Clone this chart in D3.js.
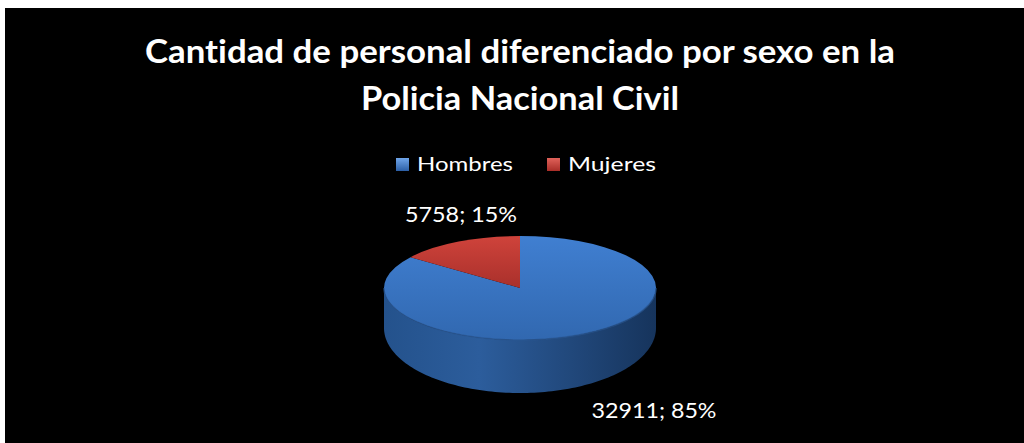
<!DOCTYPE html>
<html><head><meta charset="utf-8">
<script src="https://cdn.jsdelivr.net/npm/d3@7"></script>
<style>html,body{margin:0;padding:0;background:#fff;}svg{display:block;}text{font-variant-ligatures:none;font-feature-settings:"liga" 0;}</style>
</head><body>
<svg id="c" width="1024" height="443"></svg>
<script>
const categories = ["Hombres", "Mujeres"];
const values = [32911, 5758];
const percents = ["85%", "15%"];
const titleLines = ["Cantidad de personal diferenciado por sexo en la", "Policia Nacional Civil"];

const W = 1024, H = 443;
const svg = d3.select("#c");
const font = "Lato, 'Open Sans', 'Liberation Sans', sans-serif";

svg.append("rect").attr("x", 0).attr("y", 0).attr("width", W).attr("height", H).attr("fill", "#fff");
svg.append("rect").attr("x", 5).attr("y", 8).attr("width", W - 5).attr("height", H - 8).attr("fill", "#000");

const defs = svg.append("defs");
function lg(id, stops, x2, y2) {
  const g = defs.append("linearGradient").attr("id", id)
    .attr("x1", 0).attr("y1", 0).attr("x2", x2).attr("y2", y2);
  stops.forEach(s => g.append("stop").attr("offset", s[0]).attr("stop-color", s[1]));
}
lg("gTopBlue", [[0, "#407fd1"], [1, "#3168b0"]], 0, 1);
lg("gTopRed", [[0, "#cf433b"], [1, "#a9302b"]], 0, 1);
lg("gSide", [[0, "#24528c"], [0.35, "#2c5d9c"], [0.75, "#1f4475"], [1, "#16345c"]], 1, 0);
lg("gLegBlue", [[0, "#6fa5ea"], [1, "#2c5fa6"]], 0, 1);
lg("gLegRed", [[0, "#e0625a"], [1, "#a92e28"]], 0, 1);

// Title
const titleSizes = [32, 32];
const titleWidths = [750, 318];
const titleY = [63, 110];
titleLines.forEach((t, i) => {
  svg.append("text").attr("x", 520).attr("y", titleY[i])
    .attr("text-anchor", "middle").attr("fill", "#fff")
    .attr("font-family", font).attr("font-weight", "bold")
    .attr("font-size", titleSizes[i])
    .attr("textLength", titleWidths[i]).attr("lengthAdjust", "spacingAndGlyphs")
    .text(t);
});

// Legend
const legX = [396, 547];
const legW = [96, 88];
const legFill = ["url(#gLegBlue)", "url(#gLegRed)"];
categories.forEach((c, i) => {
  svg.append("rect").attr("x", legX[i]).attr("y", 158).attr("width", 13).attr("height", 13)
    .attr("fill", legFill[i]);
  svg.append("text").attr("x", legX[i] + 21).attr("y", 171)
    .attr("fill", "#fff").attr("font-family", font).attr("font-size", 20)
    .attr("textLength", legW[i]).attr("lengthAdjust", "spacingAndGlyphs")
    .text(c);
});

// 3D pie
const cx = 520, cy = 288, rx = 136, ry = 52;
const bOff = 40, bry = 65; // bottom ellipse (perspective)
const pie = d3.pie().sort(null).value(d => d)
  .startAngle(0).endAngle(2 * Math.PI);
const arcs = pie(values);
const px = a => cx + rx * Math.sin(a);
const py = a => cy - ry * Math.cos(a);
const pyb = a => cy + bOff - bry * Math.cos(a);

// Side (front visible part, angles PI/2 .. 3PI/2)
const a0 = Math.PI / 2, a1 = 3 * Math.PI / 2;
const sidePts = d3.range(a0, a1 + 1e-9, (a1 - a0) / 120);
let sp = "M" + px(a0) + "," + py(a0);
sidePts.forEach(a => { sp += "L" + px(a) + "," + py(a); });
sidePts.slice().reverse().forEach(a => { sp += "L" + px(a) + "," + pyb(a); });
sp += "Z";
svg.append("path").attr("d", sp).attr("fill", "url(#gSide)");

// Top faces
const arcGen = d3.arc().innerRadius(0).outerRadius(rx);
const topG = svg.append("g").attr("transform", `translate(${cx},${cy}) scale(1,${ry / rx})`);
const topFill = ["url(#gTopBlue)", "url(#gTopRed)"];
topG.selectAll("path").data(arcs).enter().append("path")
  .attr("d", arcGen).attr("fill", (d, i) => topFill[i]);
let ep = "M" + px(a0) + "," + py(a0);
sidePts.forEach(a => { ep += "L" + px(a) + "," + py(a); });
svg.append("path").attr("d", ep).attr("fill", "none").attr("stroke", "#2a5690").attr("stroke-width", 1.5).attr("opacity", 0.7);

// Data labels
const labelPos = [[654, 418], [461, 222]];
const labelW = [125, 112];
arcs.forEach((d, i) => {
  svg.append("text").attr("x", labelPos[i][0]).attr("y", labelPos[i][1])
    .attr("text-anchor", "middle").attr("fill", "#fff")
    .attr("font-family", font).attr("font-size", 22)
    .attr("textLength", labelW[i]).attr("lengthAdjust", "spacingAndGlyphs")
    .text(values[i] + "; " + percents[i]);
});
</script>
</body></html>
